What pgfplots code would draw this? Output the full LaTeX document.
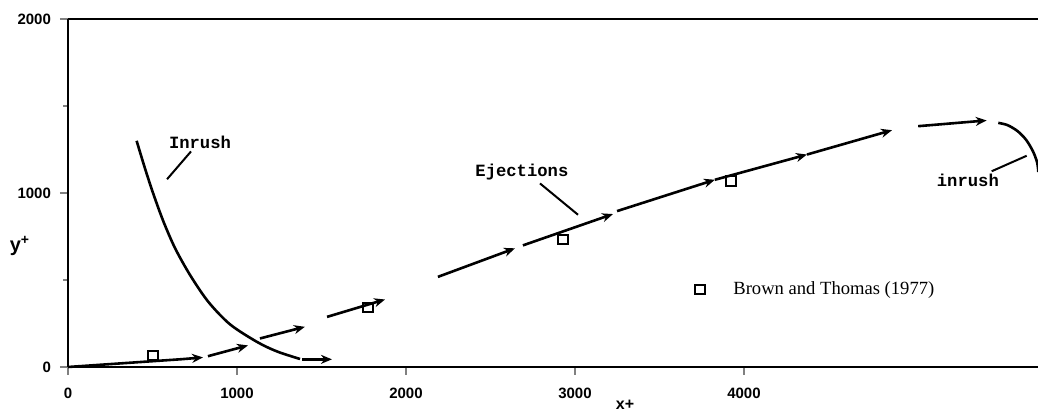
\documentclass[border=0pt]{standalone}
\usepackage{fontspec}
\setmainfont{Liberation Serif}
\setsansfont{Liberation Sans}
\setmonofont{Liberation Mono}
\usepackage{pgfplots}
\pgfplotsset{compat=1.18}
\usetikzlibrary{arrows.meta}

\begin{document}
\begin{tikzpicture}
\begin{axis}[
  name=ax,
  scale only axis, width=485pt, height=174pt,
  xmin=0, xmax=5740, ymin=0, ymax=2000,
  axis x line*=box, axis y line*=left,
  axis line style={line width=1.3pt},
  xtick={0,1000,2000,3000,4000},
  ytick={0,1000,2000}, minor ytick={500,1500},
  xtick pos=bottom,
  tick align=outside,
  major tick length=4pt, minor tick length=2.5pt,
  x tick style={line width=0.6pt},
  y tick style={line width=1pt},
  /pgf/number format/assume math mode=true,
  /pgf/number format/set thousands separator={},
  ticklabel style={font=\sffamily\bfseries\fontsize{7.5}{9}\selectfont},
  xticklabel style={yshift=-3pt},
  yticklabel style={xshift=-1pt},
  clip=false,
]
% Inrush curve (left)
\addplot[black, line width=1.3pt, smooth] coordinates {
  (406,1300) (456,1140) (505,995) (564,838) (633,684) (722,529) (830,375)
  (959,245) (1117,145) (1235,90) (1373,46)};
\addplot[black, line width=1.3pt, -{Stealth[length=5.5pt,width=4.5pt]}] coordinates {(1385,44) (1562,44)};
% Ejections (arrow segments)
\addplot[black, line width=1.3pt, -{Stealth[length=5.5pt,width=4.5pt]}] coordinates {(0,0) (675,45) (799,55)};
\addplot[black, line width=1.3pt, -{Stealth[length=5.5pt,width=4.5pt]}] coordinates {(828,62) (1065,124)};
\addplot[black, line width=1.3pt, -{Stealth[length=5.5pt,width=4.5pt]}] coordinates {(1136,164) (1402,231)};
\addplot[black, line width=1.3pt, -{Stealth[length=5.5pt,width=4.5pt]}] coordinates {(1533,288) (1876,388)};
\addplot[black, line width=1.3pt, -{Stealth[length=5.5pt,width=4.5pt]}] coordinates {(2189,518) (2645,682)};
\addplot[black, line width=1.3pt, -{Stealth[length=5.5pt,width=4.5pt]}] coordinates {(2692,699) (3225,879)};
\addplot[black, line width=1.3pt, -{Stealth[length=5.5pt,width=4.5pt]}] coordinates {(3249,896) (3828,1076)};
\addplot[black, line width=1.3pt, -{Stealth[length=5.5pt,width=4.5pt]}] coordinates {(3828,1076) (4373,1221)};
\addplot[black, line width=1.3pt, -{Stealth[length=5.5pt,width=4.5pt]}] coordinates {(4373,1221) (4876,1361)};
\addplot[black, line width=1.3pt, -{Stealth[length=5.5pt,width=4.5pt]}] coordinates {(5031,1384) (5436,1417)};
% Inrush curve (right)
\addplot[black, line width=1.3pt, smooth] coordinates {
  (5505,1403) (5560,1390) (5620,1355) (5670,1305) (5710,1240) (5735,1175) (5742,1120)};
% Leader lines
\addplot[black, line width=1pt] coordinates {(586,1079) (728,1239)};
\addplot[black, line width=1pt] coordinates {(2793,1055) (3018,875)};
\addplot[black, line width=1pt] coordinates {(5466,1125) (5673,1214)};
% Brown and Thomas (1977) data
\addplot[only marks, mark=square, mark size=2.3pt, mark options={line width=1pt, black}] coordinates {
  (503,65) (1775,343) (2929,731) (3923,1069)};
% legend
\addplot[only marks, mark=square, mark size=2.3pt, mark options={line width=1pt, black}] coordinates {(3740,445)};
\node[anchor=west, inner sep=0pt, font=\fontsize{9.3}{11}\selectfont] at (axis cs:3935,445) {Brown and Thomas (1977)};
% labels
\node[font=\ttfamily\bfseries\fontsize{8.6}{10}\selectfont] at (axis cs:781,1291) {Inrush};
\node[font=\ttfamily\bfseries\fontsize{8.6}{10}\selectfont] at (axis cs:2686,1120) {Ejections};
\node[font=\ttfamily\bfseries\fontsize{8.6}{10}\selectfont] at (axis cs:5325,1070) {inrush};
\node[font=\sffamily\bfseries\fontsize{10}{12}\selectfont] at (axis cs:-284,695) {y\textsuperscript{+}};
\node[font=\sffamily\bfseries\fontsize{8}{10}\selectfont] at (axis cs:3296,-217) {x+};
\end{axis}
\pgfresetboundingbox
\useasboundingbox ([xshift=-34pt,yshift=-22pt]ax.south west) rectangle ([yshift=9.5pt]ax.north east);
\end{tikzpicture}
\end{document}
